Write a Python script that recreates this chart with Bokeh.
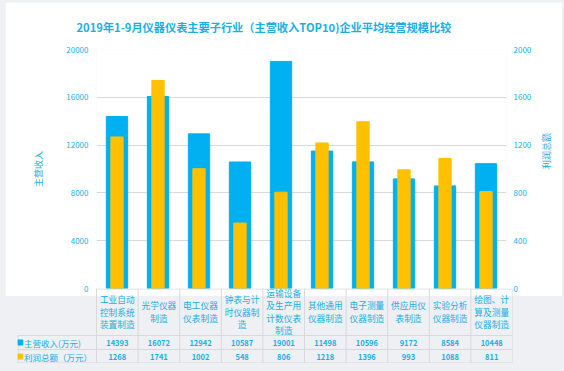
import math
from bokeh.plotting import figure
from bokeh.models import Range1d, LinearAxis, FixedTicker
from bokeh.layouts import column
from bokeh.embed import file_html
from bokeh.resources import INLINE
from bokeh.core.properties import value

# ---- data ----
categories = ["工业自动\n控制系统\n装置制造", "光学仪器\n制造", "电工仪器\n仪表制造",
              "钟表与计\n时仪器制\n造", "运输设备\n及生产用\n计数仪表\n制造", "其他通用\n仪器制造",
              "电子测量\n仪器制造", "供应用仪\n表制造", "实验分析\n仪器制造", "绘图、计\n算及测量\n仪器制造"]
revenue = [14393, 16072, 12942, 10587, 19001, 11498, 10596, 9172, 8584, 10448]
profit = [1268, 1741, 1002, 548, 806, 1218, 1396, 993, 1088, 811]
series_names = ["主营收入(万元)", "利润总额（万元）"]
left_ticks = [0, 4000, 8000, 12000, 16000, 20000]
right_ticks = [0, 400, 800, 1200, 1600, 2000]
axis_titles = ["主营收入", "利润总额"]
title_text = "2019年1-9月仪器仪表主要子行业（主营收入TOP10)企业平均经营规模比较"

BLUE = "#00b0f0"
YELLOW = "#ffc000"
TEXT = "#1aaee5"
GRID = "#d9d9d9"
PAGE_BG = "#eef0f3"
FONT = "Noto Sans CJK SC"

n = len(categories)
xs = [i + 0.5 for i in range(n)]
OVERLAP = 8
W = 557


def no_align(fig):
    if "frame_align" in fig.properties():
        fig.frame_align = False


# ---- chart ----
p = figure(width=W, height=286 + OVERLAP, x_range=Range1d(0, n), y_range=Range1d(0, 20000),
           output_backend="svg", toolbar_location=None, x_axis_location=None,
           min_border_left=91, min_border_right=50, min_border_top=45, min_border_bottom=OVERLAP)
no_align(p)
p.extra_y_ranges = {"profit": Range1d(0, 2000)}
p.outline_line_color = None
p.background_fill_color = "white"
p.border_fill_color = "white"
p.xgrid.visible = False
p.ygrid.grid_line_color = GRID
p.ygrid.ticker = FixedTicker(ticks=left_ticks)

p.title.text = title_text
p.title.text_font = FONT
p.title.text_font_size = "11.2px"
p.title.text_font_style = "bold"
p.title.text_color = TEXT
p.title.align = "left"
p.title.offset = -20
p.title.standoff = 29


def style_axis(ax, ticks, standoff, label, label_standoff):
    ax.ticker = FixedTicker(ticks=ticks)
    ax.axis_line_color = None
    ax.major_tick_line_color = None
    ax.minor_tick_line_color = None
    ax.major_tick_out = 0
    ax.major_tick_in = 0
    ax.minor_tick_out = 0
    ax.major_label_standoff = standoff
    ax.major_label_text_font = FONT
    ax.major_label_text_font_size = "8px"
    ax.major_label_text_color = TEXT
    ax.axis_label = label
    ax.axis_label_text_font = FONT
    ax.axis_label_text_font_size = "9px"
    ax.axis_label_text_font_style = "normal"
    ax.axis_label_text_color = TEXT
    ax.axis_label_standoff = label_standoff


style_axis(p.yaxis[0], left_ticks, 8, axis_titles[0], 18)
rax = LinearAxis(y_range_name="profit")
style_axis(rax, right_ticks, 7, axis_titles[1], 12)
if "axis_label_orientation" in rax.properties():
    rax.axis_label_orientation = math.pi / 2
p.add_layout(rax, "right")

p.vbar(x=xs, top=revenue, width=0.52, color=BLUE)
p.vbar(x=xs, top=profit, width=0.3, color=YELLOW, y_range_name="profit")

# ---- data table ----
left_edge = -1.899
t = figure(width=W, height=75, x_range=Range1d(left_edge, n), y_range=Range1d(0, 75),
           output_backend="svg", toolbar_location=None, x_axis_location=None, y_axis_location=None,
           min_border_left=12, min_border_right=50, min_border_top=0, min_border_bottom=0)
no_align(t)
t.styles = {"margin-top": f"-{OVERLAP}px"}
t.outline_line_color = None
t.grid.visible = False
t.background_fill_color = None
t.border_fill_color = None

row_top, row1, row2 = 75, 28, 14
hx0 = [0, left_edge, left_edge, left_edge]
hy = [row_top - 0.5, row1, row2, 0.5]
t.segment(x0=hx0, y0=hy, x1=[n] * 4, y1=hy, line_color=GRID, line_width=1)
vx = [float(i) for i in range(n + 1)]
t.segment(x0=vx, y0=[0.5] * len(vx), x1=vx, y1=[row_top] * len(vx), line_color=GRID, line_width=1)
t.segment(x0=[left_edge + 0.012], y0=[0.5], x1=[left_edge + 0.012], y1=[row1], line_color=GRID, line_width=1)

# category labels, one glyph item per line, block centred in the header row
lh = 12.3
center = 51.5
lx, ly, lt = [], [], []
for x, cat in zip(xs, categories):
    lines = cat.split("\n")
    k = len(lines)
    for j, line in enumerate(lines):
        lx.append(x)
        ly.append(center + (k - 1) / 2 * lh - j * lh)
        lt.append(line)
t.text(x=lx, y=ly, text=lt, text_align="center", text_baseline="middle",
       text_font=value(FONT), text_font_size="8.7px", text_color=TEXT)

t.text(x=xs, y=[21] * n, text=[str(v) for v in revenue], text_align="center", text_baseline="middle",
       text_font=value(FONT), text_font_size="7.5px", text_font_style="bold", text_color=TEXT)
t.text(x=xs, y=[7] * n, text=[str(v) for v in profit], text_align="center", text_baseline="middle",
       text_font=value(FONT), text_font_size="7.5px", text_font_style="bold", text_color=TEXT)
t.scatter(x=[-1.83, -1.83], y=[21, 7], marker="square", size=5, color=[BLUE, YELLOW])
t.text(x=[-1.74, -1.74], y=[21, 7], text=series_names, text_align="left", text_baseline="middle",
       text_font=value(FONT), text_font_size="8.5px", text_color=TEXT)

inner = column(p, t, spacing=0)
layout = column(inner, spacing=0,
                styles={"background-color": PAGE_BG, "padding": "2px 2px 8px 5px"})
open("out.html", "w").write(file_html(layout, INLINE))
